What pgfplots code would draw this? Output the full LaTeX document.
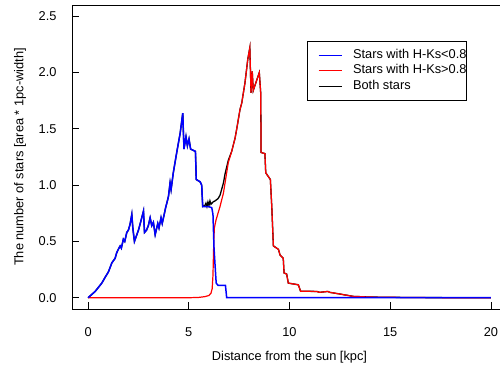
\documentclass[border=0pt]{standalone}
\usepackage{pgfplots}
\pgfplotsset{compat=1.18}
\usepackage{fontspec}
\setmainfont{Liberation Sans}
\begin{document}
\begin{tikzpicture}
\useasboundingbox (0,0) rectangle (500bp,371bp);
\begin{axis}[
  at={(72bp,62bp)}, anchor=south west,
  scale only axis, width=435bp, height=304bp,
  xmin=-0.8, xmax=20.8, ymin=-0.1, ymax=2.6,
  xtick={0,5,10,15,20}, ytick={0,0.5,1,1.5,2,2.5},
  tick pos=left, tick align=inside, major tick length=7bp,
  tick style={black, line width=0.75bp},
  axis line style={black, line width=0.75bp},
  /pgf/number format/assume math mode=true,
  font=\fontsize{12.8bp}{15bp}\selectfont,
  yticklabel style={/pgf/number format/fixed, /pgf/number format/fixed zerofill, /pgf/number format/precision=1, xshift=-12bp},
  xticklabel style={yshift=-15bp},
  xlabel={Distance from the sun [kpc]},
  ylabel={The number of stars [area * 1pc-width]},
  xlabel style={at={(axis description cs:0.5,-0.158)}, anchor=center},
  ylabel style={at={(axis description cs:-0.1195,0.5)}, anchor=center},
  legend style={at={(axis description cs:0.5395,0.883)}, anchor=north west, draw=black, line width=0.75bp, font=\fontsize{12.8bp}{15bp}\selectfont, inner xsep=0bp, inner ysep=8bp, row sep=3bp, column sep=11bp, nodes={inner sep=0bp, text height=9.5bp, text depth=3bp}},
  legend cell align=left,
  legend image code/.code={\path[draw=none,fill=none] (0bp,-2.4bp) -- (0bp,0bp); \draw[#1] (11.5bp,0bp) -- (34.5bp,0bp);},
]
% Both stars (sum)
\addplot[black, line width=1.3bp, forget plot] coordinates {
(0,0) (0.35,0.056) (0.68,0.13) (0.84,0.18) (1.01,0.23) (1.18,0.31) (1.34,0.35) (1.42,0.40) (1.50,0.43) (1.59,0.46) (1.65,0.44) (1.75,0.52) (1.82,0.50) (1.92,0.58) (2.00,0.60) (2.08,0.65) (2.17,0.74) (2.22,0.62) (2.30,0.50) (2.50,0.60) (2.62,0.68) (2.75,0.77) (2.80,0.58) (2.90,0.60) (2.99,0.64) (3.08,0.71) (3.16,0.64) (3.24,0.67) (3.33,0.56) (3.46,0.66) (3.52,0.62) (3.62,0.71) (3.68,0.66) (3.79,0.75) (3.85,0.80) (3.95,0.87) (3.99,0.90) (4.07,1.02) (4.12,0.96) (4.23,1.11) (4.40,1.29) (4.57,1.46) (4.70,1.64) (4.76,1.32) (4.86,1.43) (4.93,1.35) (5.01,1.41) (5.09,1.32) (5.33,1.30) (5.37,1.05) (5.56,1.03) (5.64,1.00) (5.69,0.81)
(5.80,0.82) (5.85,0.84) (5.90,0.81) (5.95,0.85) (6.00,0.82) (6.05,0.86) (6.10,0.83) (6.20,0.85) (6.30,0.86) (6.45,0.88) (6.55,0.91) (6.72,1.02) (6.80,1.10) (6.96,1.22) (7.13,1.30)
(7.30,1.42) (7.40,1.52) (7.54,1.67) (7.63,1.73) (7.79,1.91) (7.93,2.12) (8.03,2.22) (8.09,1.82) (8.15,2.01) (8.20,1.84) (8.50,2.00) (8.57,1.82) (8.59,1.29) (8.78,1.28) (8.82,1.11) (9.05,1.05) (9.12,0.81) (9.20,0.46) (9.45,0.43) (9.53,0.38) (9.69,0.35) (9.73,0.22) (9.86,0.21) (9.94,0.13) (10.44,0.115) (10.55,0.058) (11.35,0.056) (11.50,0.048) (11.90,0.056) (12.00,0.048) (12.50,0.033) (13.17,0.012) (14.00,0.006) (15.00,0.004) (16.00,0.002) (17.00,0.001) (20.00,0)
};
% Stars with H-Ks>0.8
\addplot[red, line width=1.2bp, forget plot] coordinates {
(0,0) (5.0,0) (5.5,0.003) (5.8,0.01) (6.0,0.02) (6.1,0.04) (6.16,0.08) (6.20,0.20) (6.24,0.50) (6.27,0.62) (6.35,0.69) (6.55,0.81) (6.72,0.93) (6.80,1.02) (6.96,1.20) (7.13,1.30)
(7.30,1.42) (7.40,1.52) (7.54,1.67) (7.63,1.73) (7.79,1.91) (7.93,2.12) (8.03,2.22) (8.09,1.82) (8.15,2.01) (8.20,1.84) (8.50,2.00) (8.57,1.82) (8.59,1.29) (8.78,1.28) (8.82,1.11) (9.05,1.05) (9.12,0.81) (9.20,0.46) (9.45,0.43) (9.53,0.38) (9.69,0.35) (9.73,0.22) (9.86,0.21) (9.94,0.13) (10.44,0.115) (10.55,0.058) (11.35,0.056) (11.50,0.048) (11.90,0.056) (12.00,0.048) (12.50,0.033) (13.17,0.012) (14.00,0.006) (15.00,0.004) (16.00,0.002) (17.00,0.001) (20.00,0)
};
% Stars with H-Ks<0.8
\addplot[blue, line width=1.5bp, forget plot] coordinates {
(0,0) (0.35,0.056) (0.68,0.13) (0.84,0.18) (1.01,0.23) (1.18,0.31) (1.34,0.35) (1.42,0.40) (1.50,0.43) (1.59,0.46) (1.65,0.44) (1.75,0.52) (1.82,0.50) (1.92,0.58) (2.00,0.60) (2.08,0.65) (2.17,0.74) (2.22,0.62) (2.30,0.50) (2.50,0.60) (2.62,0.68) (2.75,0.77) (2.80,0.58) (2.90,0.60) (2.99,0.64) (3.08,0.71) (3.16,0.64) (3.24,0.67) (3.33,0.56) (3.46,0.66) (3.52,0.62) (3.62,0.71) (3.68,0.66) (3.79,0.75) (3.85,0.80) (3.95,0.87) (3.99,0.90) (4.07,1.02) (4.12,0.96) (4.23,1.11) (4.40,1.29) (4.57,1.46) (4.70,1.64) (4.76,1.32) (4.86,1.43) (4.93,1.35) (5.01,1.41) (5.09,1.32) (5.33,1.30) (5.37,1.05) (5.56,1.03) (5.64,1.00) (5.69,0.81) (5.97,0.81) (6.14,0.80) (6.20,0.74) (6.25,0.45) (6.30,0.30) (6.36,0.13) (6.45,0.11) (6.82,0.11) (6.88,0.00) (20,0)
};
\addlegendimage{blue, line width=1bp}
\addlegendentry{Stars with H-Ks<0.8}
\addlegendimage{red, line width=1bp}
\addlegendentry{Stars with H-Ks>0.8}
\addlegendimage{black, line width=1bp}
\addlegendentry{Both stars}
\end{axis}
\end{tikzpicture}
\end{document}
